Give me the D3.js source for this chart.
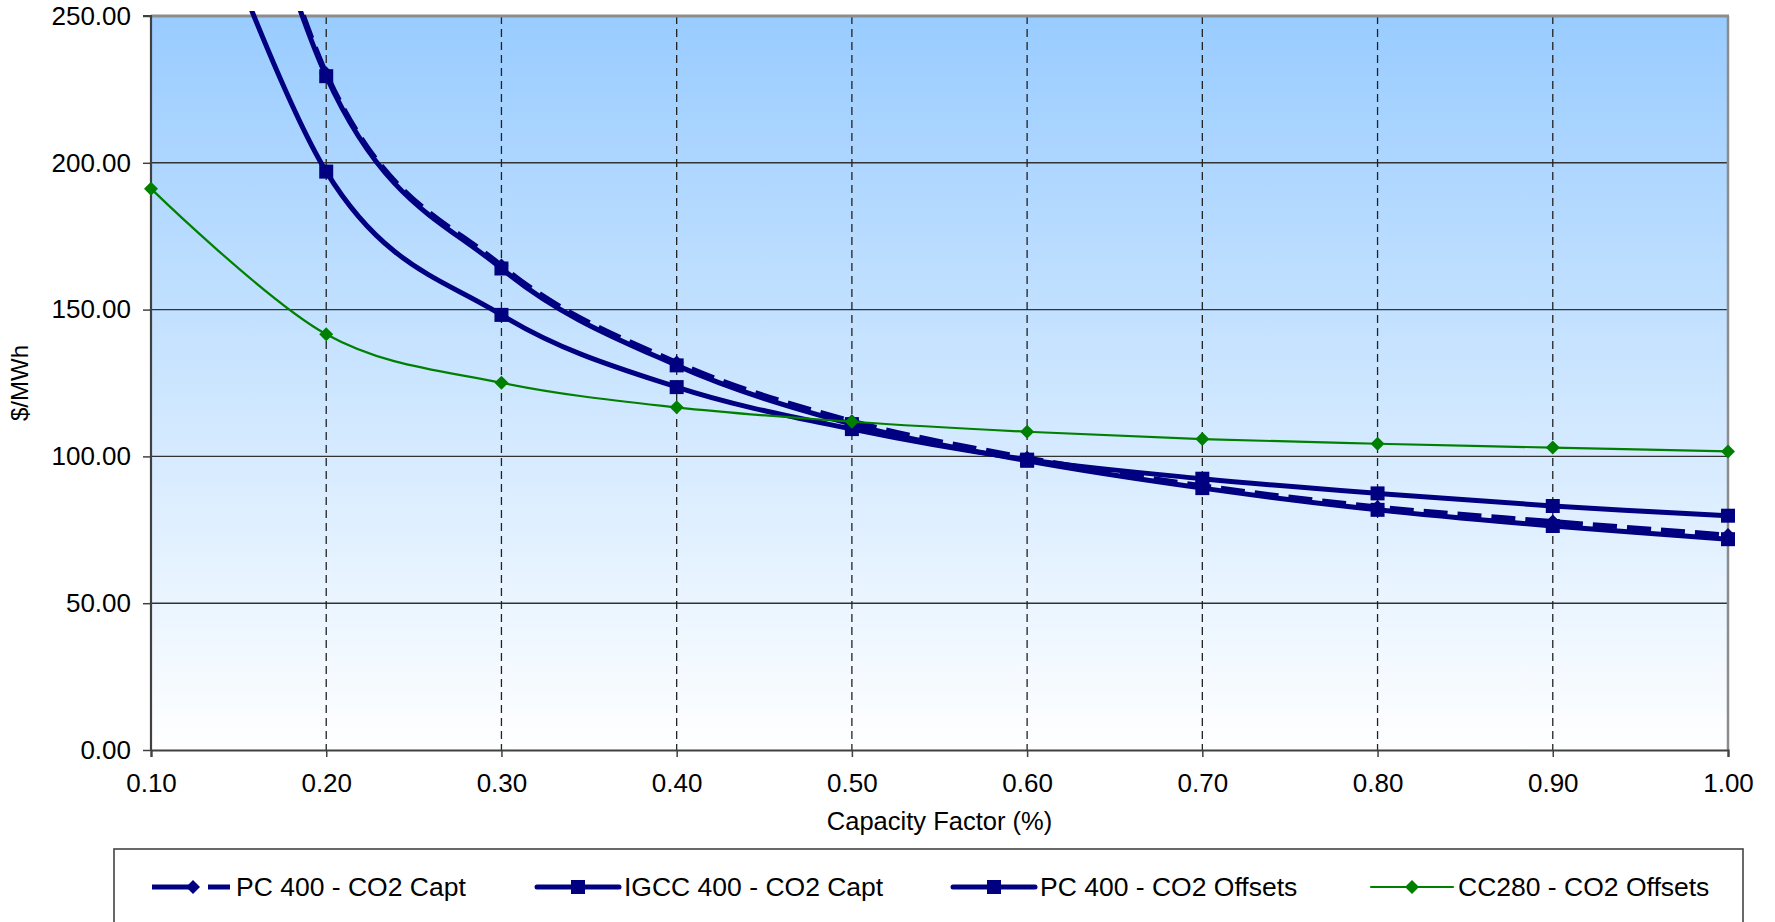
<!DOCTYPE html>
<html>
<head>
<meta charset="utf-8">
<script src="https://cdn.jsdelivr.net/npm/d3@7"></script>
<style>
  html, body { margin: 0; padding: 0; background: #ffffff; }
  svg { display: block; font-family: "Liberation Sans", Arial, sans-serif; }
</style>
</head>
<body>
<svg id="chart" width="1775" height="922"></svg>
<script>
// Capacity factor (x) and levelized cost in $/MWh for each plant option
const capacityFactor = [0.1, 0.2, 0.3, 0.4, 0.5, 0.6, 0.7, 0.8, 0.9, 1.0];
const pcCapt      = [428, 230.5, 165.0, 132.0, 112.0, 99.5, 90.0, 82.8, 77.8, 73.2];
const igccCapt    = [425, 229.5, 164.0, 131.0, 111.0, 98.5, 89.2, 81.8, 76.3, 71.8];
const pcOffsets   = [343, 197.0, 148.2, 123.6, 109.3, 98.9, 92.4, 87.4, 83.1, 79.8];
const cc280Offset = [191.2, 141.6, 125.1, 116.7, 111.8, 108.4, 105.9, 104.3, 103.0, 101.7];
const seriesNames = ["PC 400 - CO2 Capt", "IGCC 400 - CO2 Capt", "PC 400 - CO2 Offsets", "CC280 - CO2 Offsets"];
const yTicks = [0, 50, 100, 150, 200, 250];
const xTicks = [0.1, 0.2, 0.3, 0.4, 0.5, 0.6, 0.7, 0.8, 0.9, 1.0];
const xTitle = "Capacity Factor (%)";
const yTitle = "$/MWh";

const series = [
  { name: seriesNames[0], values: pcCapt,      color: "#000080", width: 5, dash: "24,10", marker: "diamond", size: 14 },
  { name: seriesNames[1], values: igccCapt,    color: "#000080", width: 5, dash: null,    marker: "square",  size: 14 },
  { name: seriesNames[2], values: pcOffsets,   color: "#000080", width: 5, dash: null,    marker: "square",  size: 14 },
  { name: seriesNames[3], values: cc280Offset, color: "#008000", width: 2.2, dash: null,  marker: "diamond", size: 14 }
];

const svg = d3.select("#chart");
const plot = { left: 151, right: 1728, top: 16, bottom: 750 };

const x = d3.scaleLinear().domain([0.1, 1.0]).range([plot.left, plot.right]);
const y = d3.scaleLinear().domain([0, 250]).range([plot.bottom, plot.top]);

const defs = svg.append("defs");
const grad = defs.append("linearGradient").attr("id", "bgGrad")
  .attr("x1", 0).attr("y1", 0).attr("x2", 0).attr("y2", 1);
grad.append("stop").attr("offset", "0%").attr("stop-color", "#99ccff");
grad.append("stop").attr("offset", "100%").attr("stop-color", "#ffffff");

defs.append("clipPath").attr("id", "plotClip")
  .append("rect")
  .attr("x", plot.left - 10).attr("y", plot.top - 5)
  .attr("width", plot.right - plot.left + 20).attr("height", plot.bottom - plot.top + 5);

// Plot background
svg.append("rect")
  .attr("x", plot.left).attr("y", plot.top)
  .attr("width", plot.right - plot.left).attr("height", plot.bottom - plot.top)
  .attr("fill", "url(#bgGrad)");

// Horizontal gridlines
svg.append("g").selectAll("line")
  .data(yTicks.filter(d => d > 0 && d < 250))
  .join("line")
  .attr("x1", plot.left).attr("x2", plot.right)
  .attr("y1", d => y(d)).attr("y2", d => y(d))
  .attr("stroke", "#333333").attr("stroke-width", 1.4);

// Vertical dashed gridlines
svg.append("g").selectAll("line")
  .data(xTicks.filter(d => d > 0.1 && d < 1.0))
  .join("line")
  .attr("x1", d => x(d)).attr("x2", d => x(d))
  .attr("y1", plot.top).attr("y2", plot.bottom)
  .attr("stroke", "#222222").attr("stroke-width", 1.3)
  .attr("stroke-dasharray", "8,5");

// Frame: grey top/right, dark axes left/bottom
svg.append("line").attr("x1", plot.left).attr("x2", plot.right + 1)
  .attr("y1", plot.top).attr("y2", plot.top)
  .attr("stroke", "#8c8c8c").attr("stroke-width", 3);
svg.append("line").attr("x1", plot.right).attr("x2", plot.right)
  .attr("y1", plot.top).attr("y2", plot.bottom)
  .attr("stroke", "#8c8c8c").attr("stroke-width", 2.5);

// Axes
const yAxis = d3.axisLeft(y).tickValues(yTicks).tickSize(8).tickPadding(12)
  .tickFormat(d3.format(".2f"));
const xAxis = d3.axisBottom(x).tickValues(xTicks).tickSize(7).tickPadding(17)
  .tickFormat(d3.format(".2f"));

const gy = svg.append("g").attr("transform", `translate(${plot.left},0)`).call(yAxis);
const gx = svg.append("g").attr("transform", `translate(0,${plot.bottom})`).call(xAxis);
[gy, gx].forEach(g => {
  g.select(".domain").attr("stroke", "#404040").attr("stroke-width", 2.2);
  g.selectAll(".tick line").attr("stroke", "#404040").attr("stroke-width", 1.5);
  g.selectAll(".tick text").attr("fill", "#000").style("font-size", "26px")
    .style("font-family", "'Liberation Sans', Arial, sans-serif");
});
gy.select(".domain").attr("d", `M-8,${plot.top}H0V${plot.bottom}`);

// Axis titles
svg.append("text")
  .attr("x", (plot.left + plot.right) / 2).attr("y", 830)
  .attr("text-anchor", "middle").style("font-size", "25.5px").attr("fill", "#000")
  .text(xTitle);
svg.append("text")
  .attr("transform", `translate(28,${(plot.top + plot.bottom) / 2}) rotate(-90)`)
  .attr("text-anchor", "middle").style("font-size", "24px").attr("fill", "#000")
  .text(yTitle);

// Smoothed series lines and markers
const line = d3.line()
  .x((d, i) => x(capacityFactor[i]))
  .y(d => y(d))
  .curve(d3.curveCardinal.tension(0));

function markerPath(type, s) {
  const h = s / 2;
  if (type === "diamond") return `M0,${-h}L${h},0L0,${h}L${-h},0Z`;
  return `M${-h},${-h}H${h}V${h}H${-h}Z`;
}

const chartG = svg.append("g").attr("clip-path", "url(#plotClip)");
series.forEach(s => {
  const g = chartG.append("g");
  g.append("path")
    .attr("d", line(s.values))
    .attr("fill", "none")
    .attr("stroke", s.color)
    .attr("stroke-width", s.width)
    .attr("stroke-dasharray", s.dash)
    .attr("stroke-linejoin", "round");
  g.selectAll("path.mk")
    .data(s.values)
    .join("path")
    .attr("class", "mk")
    .attr("transform", (d, i) => `translate(${x(capacityFactor[i])},${y(d)})`)
    .attr("d", markerPath(s.marker, s.size))
    .attr("fill", s.color);
});

// Legend
const legend = svg.append("g");
legend.append("rect")
  .attr("x", 114).attr("y", 849).attr("width", 1629).attr("height", 100)
  .attr("fill", "#ffffff").attr("stroke", "#444444").attr("stroke-width", 1.6);

const legendX = [152, 537, 953, 1371];
const legendY = 887;
const sampleLen = 82;
series.forEach((s, i) => {
  const g = legend.append("g").attr("transform", `translate(${legendX[i]},${legendY})`);
  if (s.dash) {
    g.append("line").attr("x1", 0).attr("x2", 44).attr("y1", 0).attr("y2", 0)
      .attr("stroke", s.color).attr("stroke-width", s.width);
    g.append("line").attr("x1", 56).attr("x2", 78).attr("y1", 0).attr("y2", 0)
      .attr("stroke", s.color).attr("stroke-width", s.width);
  } else {
    g.append("line").attr("x1", 0).attr("x2", sampleLen).attr("y1", 0).attr("y2", 0)
      .attr("stroke", s.color).attr("stroke-width", s.width).attr("stroke-linecap", "round");
  }
  g.append("path")
    .attr("transform", `translate(${s.dash ? 41 : sampleLen / 2},0)`)
    .attr("d", markerPath(s.marker, s.size))
    .attr("fill", s.color);
  g.append("text")
    .attr("x", s.dash ? 84 : sampleLen + 5).attr("y", 0).attr("dy", "0.35em")
    .style("font-size", "26.5px").attr("fill", "#000")
    .text(s.name);
});
</script>
</body>
</html>
